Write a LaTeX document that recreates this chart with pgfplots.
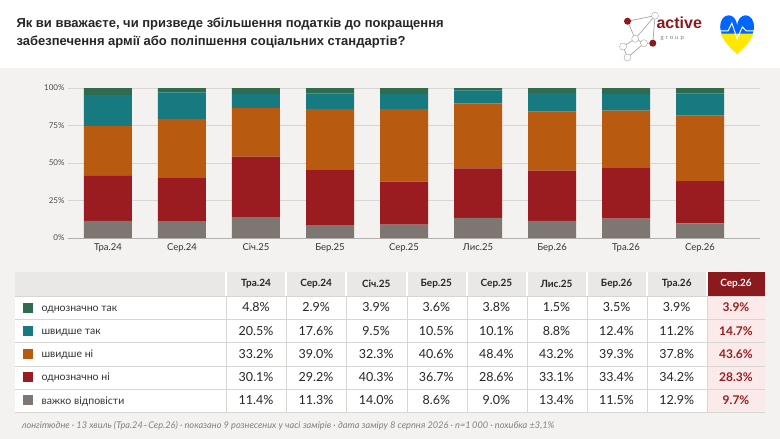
\documentclass[border=0pt]{standalone}
\usepackage{pgfplots}
\pgfplotsset{compat=1.18}
\usepackage{pgfplotstable}
\usepackage{fontspec}
\setmainfont{Lato}
\newfontfamily\titlefont{Liberation Sans}
\definecolor{cA}{HTML}{2E6B4F}
\definecolor{cB}{HTML}{177A80}
\definecolor{cC}{HTML}{B85A10}
\definecolor{cD}{HTML}{9B1C20}
\definecolor{cE}{HTML}{7D7671}
\definecolor{bg}{HTML}{F3F2F0}
\definecolor{hdr}{HTML}{E9E8E6}
\definecolor{dred}{HTML}{8B1A1F}
\definecolor{pink}{HTML}{FBEAEA}
\definecolor{lineg}{HTML}{D8D6D3}
\pgfplotstableread{
x E D C B A
0 11.4 30.1 33.2 20.5 4.8
1 11.3 29.2 39.0 17.6 2.9
2 14.0 40.3 32.3 9.5 3.9
3 8.6 36.7 40.6 10.5 3.6
4 9.0 28.6 48.4 10.1 3.8
5 13.4 33.1 43.2 8.8 1.5
6 11.5 33.4 39.3 12.4 3.5
7 12.9 34.2 37.8 11.2 3.9
8 9.7 28.3 43.6 14.7 3.9
}\bars
\begin{document}
\begin{tikzpicture}
\begin{scope}[x=1pt,y=-1pt]
\fill[white] (0,0) rectangle (780,439);
\fill[bg] (0,68) rectangle (780,439);
\node[anchor=west,align=left,font=\titlefont\bfseries\fontsize{13}{17.5}\selectfont,text=black!85] at (13,33) {Як ви вважаєте, чи призведе збільшення податків до покращення\\забезпечення армії або поліпшення соціальних стандартів?};
% logo
\begin{scope}[shift={(-60,-3)},scale=1.1]
\draw[gray!70,line width=0.7pt] (625,22)--(650,17)--(632,38)--(625,22) (632,38)--(621,45)--(625,55)--(640,42)--(632,38) (650,17)--(648,42)--(640,42);
\foreach \p in {(650,17),(632,38),(640,42),(621,45),(625,55)} \draw[gray!70,fill=white] \p circle (3.2);
\fill[dred] (625,22) circle (3.2); \fill[dred] (648,42) circle (3.2);
\end{scope}
\node[anchor=west,font=\titlefont\bfseries\fontsize{16}{16}\selectfont,text=dred] at (653,23) {active};
\node[anchor=west,font=\fontsize{6}{6}\selectfont,text=gray] at (657,39) {g\,\,r\,\,o\,\,u\,\,p};
\begin{scope}[shift={(-221,-12)},scale=1.3]
\fill[blue!60!cyan] (737,30) .. controls (737,18) and (724,18) .. (724,30) .. controls (724,38) and (732,44) .. (737,50) -- cycle;
\fill[blue!60!cyan] (737,30) .. controls (737,18) and (750,18) .. (750,30) .. controls (750,38) and (742,44) .. (737,50) -- cycle;
\fill[yellow!90!orange] (724.5,35) -- (749.5,35) .. controls (747,42) and (742,46) .. (737,51) .. controls (732,46) and (727,42) .. (724.5,35);
\draw[white,line width=1pt] (722,33)--(730,33)--(733,27)--(737,39)--(741,30)--(744,33)--(752,33);
\end{scope}
% table
\fill[hdr] (15,272) rectangle (765,296);
\fill[white] (15,296) rectangle (707,412);
\fill[pink] (707,296) rectangle (765,412);
\fill[dred] (707,272) rectangle (765,296);
\foreach \y in {319,342,366,389} \draw[lineg,line width=0.6pt] (15,\y)--(765,\y);
\draw[lineg,line width=0.6pt] (15,296)--(765,296) (15,412)--(765,412);
\foreach \xx in {226,286,346,407,467,527,587,647,707} \draw[white,line width=1.5pt] (\xx,272)--(\xx,296);
\foreach \xx in {226,286,346,407,467,527,587,647,707} \draw[lineg,line width=0.6pt] (\xx,296)--(\xx,412);
\foreach \n [count=\i from 0] in {Тра.24,Сер.24,Січ.25,Бер.25,Сер.25,Лис.25,Бер.26,Тра.26}
  \node[font=\bfseries\fontsize{10}{10}\selectfont,text=black!85] at (256+60.1*\i,284) {\n};
\node[font=\bfseries\fontsize{10}{10}\selectfont,text=white] at (736,284) {Сер.26};
\foreach \c/\t/\vals [count=\r from 0] in {
 cA/однозначно так/{4.8,2.9,3.9,3.6,3.8,1.5,3.5,3.9,3.9},
 cB/швидше так/{20.5,17.6,9.5,10.5,10.1,8.8,12.4,11.2,14.7},
 cC/швидше ні/{33.2,39.0,32.3,40.6,48.4,43.2,39.3,37.8,43.6},
 cD/однозначно ні/{30.1,29.2,40.3,36.7,28.6,33.1,33.4,34.2,28.3},
 cE/важко відповісти/{11.4,11.3,14.0,8.6,9.0,13.4,11.5,12.9,9.7}}{
  \pgfmathsetmacro\yy{307.5+23.2*\r}
  \fill[\c] (23,\yy-5) rectangle (33,\yy+5);
  \node[anchor=base west,font=\fontsize{10.5}{10}\selectfont,text=black!80] at (38,\yy+3.8) {\t};
  \foreach \v [count=\k from 0] in \vals {
    \ifnum\k=8
      \node[font=\bfseries\fontsize{12}{12}\selectfont,text=cD] at (736,\yy) {\v\%};
    \else
      \node[font=\fontsize{12.5}{12}\selectfont,text=black!85] at (256+60.1*\k,\yy) {\v\%};
    \fi}
}
\node[anchor=west,font=\itshape\fontsize{9.2}{9}\selectfont,text=gray] at (18,426) {лонгітюдне · 13 хвиль (Тра.24–Сер.26) · показано 9 рознесених у часі замірів · дата заміру 8 серпня 2026 · n=1\,000 · похибка ±3,1\%};
\end{scope}
\begin{axis}[at={(68pt,-238pt)},anchor=south west,scale only axis,
 width=692pt,height=150pt,ybar stacked,bar width=48pt,
 xmin=-0.54,xmax=8.81,ymin=0,ymax=100,
 xtick=data,xticklabels={Тра.24,Сер.24,Січ.25,Бер.25,Сер.25,Лис.25,Бер.26,Тра.26,Сер.26},
 ytick={0,25,50,75,100},yticklabel={\pgfmathprintnumber{\tick}\%},
 /pgf/number format/assume math mode=true,
 axis line style={draw=none},axis x line*=bottom,
 x axis line style={draw=gray!60},
 major tick length=0pt,
 ymajorgrids,grid style={lineg,line width=0.5pt},
 ticklabel style={font=\fontsize{8}{9}\selectfont,text=black!70},
 xticklabel style={font=\fontsize{9.5}{10}\selectfont,text=black!80,yshift=-2pt},
 every axis plot/.append style={draw=none}]
\addplot[fill=cE] table[x=x,y=E]{\bars};
\addplot[fill=cD] table[x=x,y=D]{\bars};
\addplot[fill=cC] table[x=x,y=C]{\bars};
\addplot[fill=cB] table[x=x,y=B]{\bars};
\addplot[fill=cA] table[x=x,y=A]{\bars};
\end{axis}
\end{tikzpicture}
\end{document}
